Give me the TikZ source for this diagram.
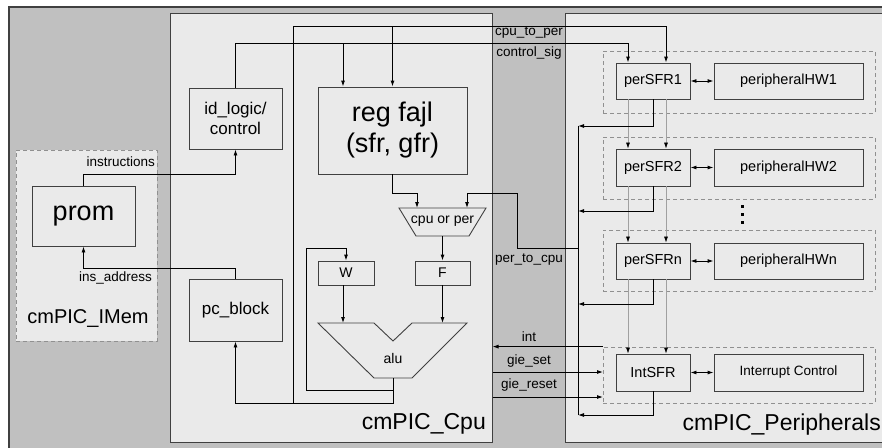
\documentclass[tikz,border=0pt]{standalone}
\usepackage{fontspec}
\setmainfont{Liberation Sans}
\usetikzlibrary{positioning, arrows.meta}

\definecolor{frameFill}{HTML}{C0C0C0}
\definecolor{blockFill}{HTML}{EAEAEA}
\definecolor{frameLine}{HTML}{404040}
\definecolor{grpLine}{HTML}{909090}
\definecolor{chainLine}{HTML}{A0A0A0}

\tikzset{
  outerbox/.style={draw=frameLine, fill=frameFill, line width=1.2pt},
  unit/.style={draw=frameLine, fill=blockFill, line width=1pt, inner sep=0pt},
  block/.style={draw=frameLine, fill=blockFill, line width=0.9pt, inner sep=0pt, align=center},
  grp/.style={draw=grpLine, dashed, dash pattern=on 4pt off 3pt, line width=0.8pt, inner sep=0pt, minimum width=272pt},
  wire/.style={->, line width=0.9pt},
  link/.style={<->, line width=0.9pt},
  chainwire/.style={-{Latex[length=6pt,width=4pt,color=black]}, draw=chainLine, line width=0.6pt},
  lbl/.style={inner sep=0pt, font=\fontsize{13.5}{16}\selectfont},
  bigtext/.style={font=\fontsize{27}{31}\selectfont},
  midtext/.style={font=\fontsize{17}{20}\selectfont},
  smalltext/.style={font=\fontsize{14}{16}\selectfont},
  pertext/.style={font=\fontsize{14.5}{17}\selectfont},
}

\begin{document}
\begin{tikzpicture}[x=1pt, y=-1pt, >={Latex[length=6pt,width=4pt]}]
    \useasboundingbox (0,0) rectangle (882,447);

    % Units
    \begin{scope}
        \clip (0,0) rectangle (882,447);
        \draw[outerbox] (9,7) rectangle (900,470);
        \node[unit, minimum width=322pt, minimum height=429pt] (cpu) at (331,227.5) {};
        \node[unit, minimum width=340pt, minimum height=429pt, anchor=north west] (per) at (565,13) {};
    \end{scope}
    \node[unit, draw=grpLine, dashed, dash pattern=on 4pt off 3pt, minimum width=141pt, minimum height=191pt] (imem) at (86.5,245.5) {};

    \node[inner sep=0pt, font=\fontsize{20}{24}\selectfont] (imem_lbl) at (88,318) {cmPIC\_IMem};
    \node[inner sep=0pt, anchor=east, font=\fontsize{23}{27}\selectfont] (cpu_lbl) at (486,424) {cmPIC\_Cpu};
    \node[inner sep=0pt, anchor=east, font=\fontsize{23}{27}\selectfont] (per_lbl) at (881,425) {cmPIC\_Peripherals};

    % Instruction memory and cpu blocks
    \node[block, bigtext, minimum width=103pt, minimum height=60pt] (prom) at (83.5,216) {prom};
    \node[block, midtext, minimum width=93pt, minimum height=61pt] (id_logic) at (235.5,118.5) {id\_logic/\\control};
    \node[block, midtext, minimum width=93pt, minimum height=62pt] (pc_block) at (235.5,310) {pc\_block};
    \node[block, bigtext, minimum width=149pt, minimum height=87pt] (reg_file) at (392.5,130.5) {reg fajl\\(sfr, gfr)};
    \node[block, smalltext, minimum width=56pt, minimum height=24pt] (w_reg) at (346,273) {W};
    \node[block, smalltext, minimum width=55pt, minimum height=24pt] (f_reg) at (442.5,273) {F};

    % cpu or per mux
    \draw[block] (399,208) -- (486,208) -- (469,236) -- (416,236) -- cycle;
    \node[smalltext, inner sep=0pt] (mux) at (442.5,221) {cpu or per};
    \coordinate (mux_in1) at (417,208);
    \coordinate (mux_in2) at (467,208);
    \coordinate (mux_out) at (442.5,236);

    % alu
    \draw[block] (318,323) -- (374,323) -- (393,341) -- (412,323) -- (467,323) -- (412,378) -- (374,378) -- cycle;
    \node[smalltext, inner sep=0pt] (alu) at (393,358) {alu};
    \coordinate (alu_in1) at (343,323);
    \coordinate (alu_out) at (393,378);

    % Peripherals
    \node[grp, minimum height=62pt] (grp1) at (739,82) {};
    \node[grp, minimum height=62pt] (grp2) at (739,168) {};
    \node[grp, minimum height=61pt] (grpn) at (739,260.5) {};
    \node[grp, minimum height=56pt] (grp_int) at (739,375) {};

    \node[block, pertext, minimum width=74pt, minimum height=36pt] (per_sfr1) at (653,81) {perSFR1};
    \node[block, pertext, minimum width=149pt, minimum height=36pt] (per_hw1) at (788.5,81) {peripheralHW1};
    \node[block, pertext, minimum width=74pt, minimum height=37pt] (per_sfr2) at (653,167.5) {perSFR2};
    \node[block, pertext, minimum width=149pt, minimum height=37pt] (per_hw2) at (788.5,167.5) {peripheralHW2};
    \node[block, pertext, minimum width=74pt, minimum height=36pt] (per_sfrn) at (653,261) {perSFRn};
    \node[block, pertext, minimum width=149pt, minimum height=36pt] (per_hwn) at (788.5,261) {peripheralHWn};
    \node[block, pertext, minimum width=74pt, minimum height=37pt] (int_sfr) at (653,372.5) {IntSFR};
    \node[block, lbl, minimum width=149pt, minimum height=37pt] (int_ctrl) at (788.5,372.5) {Interrupt Control};

    % dots
    \fill (740.5,204.5) rectangle ++(3,3);
    \fill (740.5,212.5) rectangle ++(3,3);
    \fill (740.5,220.5) rectangle ++(3,3);

    % SFR to hardware
    \draw[link] (per_sfr1) -- (per_hw1);
    \draw[link] (per_sfr2) -- (per_hw2);
    \draw[link] (per_sfrn) -- (per_hwn);
    \draw[link] (int_sfr) -- (int_ctrl);

    % SFR chain
    \draw[chainwire] ([xshift=-25pt]per_sfr1.south) -- ([xshift=-25pt]per_sfr2.north);
    \draw[chainwire] ([xshift=13pt]per_sfr1.south) -- ([xshift=13pt]per_sfr2.north);
    \draw[chainwire] ([xshift=-25pt]per_sfr2.south) -- ([xshift=-25pt]per_sfrn.north);
    \draw[chainwire] ([xshift=13pt]per_sfr2.south) -- ([xshift=13pt]per_sfrn.north);
    \draw[chainwire] ([xshift=-25pt]per_sfrn.south) -- ([xshift=-25pt]int_sfr.north);
    \draw[chainwire] ([xshift=13pt]per_sfrn.south) -- ([xshift=13pt]int_sfr.north);

    % instructions / ins_address
    \draw[wire] (prom.north) -- ++(0,-11) -| (id_logic.south);
    \draw[wire] (pc_block.north) -- ++(0,-10) -| (prom.south);
    \node[lbl, anchor=east] (lbl_instr) at (155,162) {instructions};
    \node[lbl, anchor=east] (lbl_addr) at (152,278) {ins\_address};

    % control_sig
    \coordinate (ctl_tap) at (343,44);
    \draw[wire] (id_logic.north) -- ++(0,-44) -| ([xshift=-25pt]per_sfr1.north);
    \draw[wire] (ctl_tap) -- (ctl_tap |- reg_file.north);

    % cpu_to_per
    \coordinate (cpu_tap) at (293,403);
    \coordinate (cpu_top) at (293,26);
    \draw[wire] (alu_out) -- (alu_out |- cpu_tap) -| (pc_block.south);
    \draw[wire] (cpu_tap) -- (cpu_top) -| ([xshift=13pt]per_sfr1.north);
    \draw[wire] (reg_file.north |- cpu_top) -- (reg_file.north);

    % W feedback
    \coordinate (w_back) at (306,390);
    \draw[wire] (alu_out |- w_back) -- (w_back) -- ++(0,-142) -| (w_reg.north);
    \draw[wire] (w_reg.south -| alu_in1) -- (alu_in1);
    \draw[wire] (f_reg.south) -- (f_reg.south |- alu_in1);

    % mux
    \draw[wire] (reg_file.south) -- ++(0,19) -| (mux_in1);
    \draw[wire] (mux_out) -- (f_reg.north);

    % peripheral bus back to cpu
    \coordinate (bus_top) at (578,126);
    \coordinate (bus_2) at (578,211);
    \coordinate (bus_n) at (578,304);
    \coordinate (bus_bot) at (578,415);
    \coordinate (bus_tap) at (578,248);
    \draw[line width=0.9pt] (bus_top) -- (bus_bot);
    \draw[wire] (per_sfr1.south) |- (bus_top);
    \draw[wire] (per_sfr2.south) |- (bus_2);
    \draw[wire] (per_sfrn.south) |- (bus_n);
    \draw[wire] (int_sfr.south) |- (bus_bot);
    \draw[wire] (bus_tap) -- ++(-61,0) -- ++(0,-55) -| (mux_in2);

    % interrupt lines
    \coordinate (gie_s) at (603,372);
    \coordinate (gie_r) at (603,397);
    \draw[wire] (grp_int.north west) -- (grp_int.north west -| cpu.east);
    \draw[wire] (cpu.east |- gie_s) -- (gie_s);
    \draw[wire] (cpu.east |- gie_r) -- (gie_r);

    % bus labels
    \node[lbl] (lbl_c2p) at (529,33) {cpu\_to\_per};
    \node[lbl] (lbl_ctl) at (529,53) {control\_sig};
    \node[lbl] (lbl_p2c) at (529,260) {per\_to\_cpu};
    \node[lbl] (lbl_int) at (529,337) {int};
    \node[lbl] (lbl_gset) at (529,361) {gie\_set};
    \node[lbl] (lbl_greset) at (529,385) {gie\_reset};
\end{tikzpicture}
\end{document}
